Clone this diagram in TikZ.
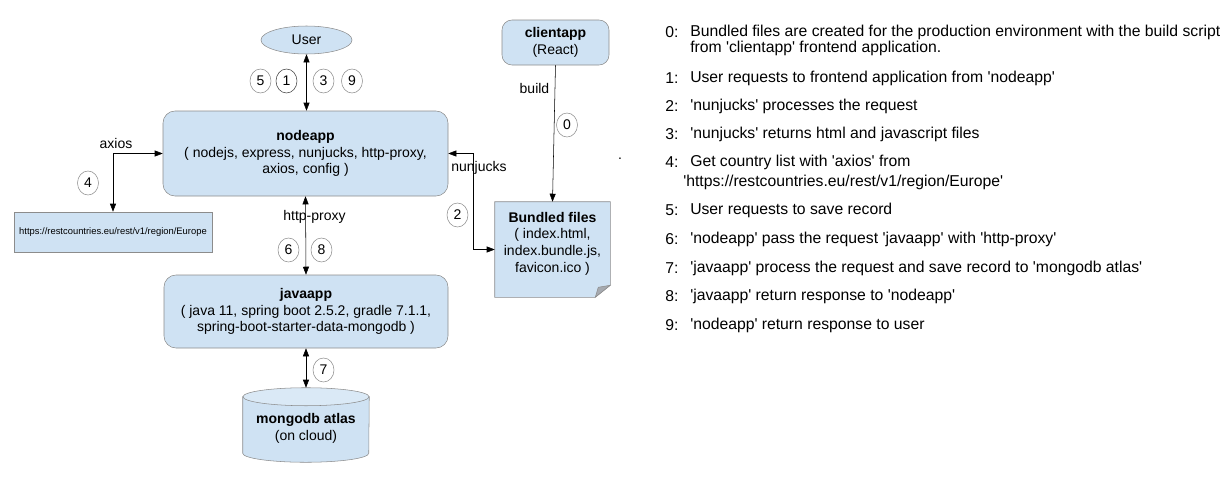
\documentclass[tikz,border=0pt]{standalone}
\usepackage{fontspec}
\setmainfont{Liberation Sans}[Ligatures=TeXOff]
\usetikzlibrary{arrows.meta, shapes.geometric, backgrounds, positioning}

\definecolor{boxfill}{RGB}{207,226,243}
\definecolor{capfill}{RGB}{218,233,246}
\definecolor{boxline}{RGB}{140,140,140}
\definecolor{foldfill}{RGB}{166,170,176}

\tikzset{
  txt/.style={font=\fontsize{10.5}{12.5}\selectfont},
  appbox/.style={txt, rectangle, rounded corners=9pt, draw=boxline, fill=boxfill, align=center, inner sep=0pt},
  stepnum/.style={txt, ellipse, draw=black!45, minimum width=15.75pt, minimum height=18pt, inner sep=0pt},
  tag/.style={txt, inner sep=0pt},
  legend/.style={font=\fontsize{11.8}{14}\selectfont, anchor=west, inner sep=0pt},
  twoway/.style={{Triangle[length=6pt,width=4.5pt]}-{Triangle[length=6pt,width=4.5pt]}},
  oneway/.style={-{Triangle[length=6pt,width=4.5pt]}},
}

\begin{document}
\begin{tikzpicture}[x=0.75pt, y=-0.75pt]
  \useasboundingbox (0,0) rectangle (1229,479);

  % boxes
  \node[txt, ellipse, draw=boxline, fill=boxfill, minimum width=68.25pt, minimum height=21pt, inner sep=0pt] (user) at (306.5,40) {User};
  \node[appbox, minimum width=213.75pt, minimum height=63.75pt] (nodeapp) at (305.5,153.5) {{\bfseries nodeapp}\\( nodejs, express, nunjucks, http-proxy,\\axios, config )};
  \node[appbox, minimum width=213pt, minimum height=54.75pt] (javaapp) at (306,311.5) {{\bfseries javaapp}\\( java 11, spring boot 2.5.2, gradle 7.1.1,\\spring-boot-starter-data-mongodb )};
  \node[appbox, rounded corners=7.5pt, minimum width=80.25pt, minimum height=33.75pt] (clientapp) at (555.5,42.5) {{\bfseries clientapp}\\(React)};
  \node[rectangle, draw=boxline, fill=boxfill, minimum width=148.5pt, minimum height=30pt, inner sep=0pt, font=\fontsize{7.05}{8}\selectfont] (url) at (113,232) {https://restcountries.eu/rest/v1/region/Europe};
  \node[minimum width=86.25pt, minimum height=71.25pt, inner sep=0pt,
        label={[txt, align=center, yshift=4.5pt]center:{{\bfseries Bundled files}\\( index.html,\\index.bundle.js,\\favicon.ico )}}] (bundled) at (552.5,249.5) {};
  \node[minimum width=94.5pt, minimum height=55.5pt, inner sep=0pt,
        label={[txt, align=center, yshift=-2.6pt]center:{{\bfseries mongodb atlas}\\(on cloud)}}] (mongo) at (306,425) {};

  \begin{scope}[on background layer]
    % note shape
    \draw[draw=boxline, fill=boxfill] (bundled.north west) -- (bundled.north east) -- ([yshift=9pt]bundled.south east) -- ([xshift=-11.25pt]bundled.south east) -- (bundled.south west) -- cycle;
    \draw[draw=boxline, fill=foldfill] ([yshift=9pt]bundled.south east) -- ([xshift=-11.25pt]bundled.south east) -- ([xshift=-9pt, yshift=7.5pt]bundled.south east) -- cycle;
    % cylinder
    \draw[draw=boxline, fill=boxfill] ([yshift=-6.75pt]mongo.north west) -- ([yshift=6.75pt]mongo.south west) arc[start angle=180, end angle=360, x radius=47.25pt, y radius=6.75pt] -- ([yshift=-6.75pt]mongo.north east) -- cycle;
    \draw[draw=boxline, fill=capfill] ([yshift=-6.75pt]mongo.north) ellipse[x radius=47.25pt, y radius=6.75pt];
  \end{scope}

  % connectors
  \draw[twoway] (user.south) -- (user.south |- nodeapp.north);
  \draw[twoway] (nodeapp.south) -- (javaapp.north);
  \draw[twoway] (javaapp.south) -- (mongo.north);
  \draw[twoway] (url.north) |- (nodeapp.west);
  \draw[twoway] (nodeapp.east) -- ++(24.5,0) |- (bundled.west);
  \draw[oneway] (clientapp.south) -- (bundled.north);

  % connector labels
  \node[tag] (axios) at (116,143) {axios};
  \node[tag] (proxy) at (314.5,217) {http-proxy};
  \node[tag] (nunjucks) at (479,168) {nunjucks};
  \node[tag] (build) at (534.5,88) {build};
  \node[tag] (dot) at (620,159) {.};

  % step numbers
  \node[stepnum] (s5) at (260.5,81) {5};
  \node[stepnum, draw=black!75] (s1) at (286.5,81) {1};
  \node[stepnum] (s3) at (323.5,81) {3};
  \node[stepnum] (s9) at (352,81) {9};
  \node[stepnum] (s4) at (88,183) {4};
  \node[stepnum] (s6) at (288.5,250) {6};
  \node[stepnum] (s8) at (321.5,250) {8};
  \node[stepnum] (s7) at (323.5,370) {7};
  \node[stepnum] (s2) at (457.5,215) {2};
  \node[stepnum] (s0) at (567,125) {0};

  % legend
  \node[legend] (n0) at (665,32) {0:};
  \node[legend] (t0) at (690,32) {Bundled files are created for the production environment with the build script};
  \node[legend] (t0b) at (690,48) {from 'clientapp' frontend application.};
  \node[legend] (n1) at (665,78) {1:};
  \node[legend] (t1) at (690,78) {User requests to frontend application from 'nodeapp'};
  \node[legend] (n2) at (665,106) {2:};
  \node[legend] (t2) at (690,106) {'nunjucks' processes the request};
  \node[legend] (n3) at (665,134) {3:};
  \node[legend] (t3) at (690,134) {'nunjucks' returns html and javascript files};
  \node[legend] (n4) at (665,162) {4:};
  \node[legend] (t4) at (690,162) {Get country list with 'axios' from};
  \node[legend] (t4b) at (683,182) {'https://restcountries.eu/rest/v1/region/Europe'};
  \node[legend] (n5) at (665,210) {5:};
  \node[legend] (t5) at (690,210) {User requests to save record};
  \node[legend] (n6) at (665,239) {6:};
  \node[legend] (t6) at (690,239) {'nodeapp' pass the request 'javaapp' with 'http-proxy'};
  \node[legend] (n7) at (665,268) {7:};
  \node[legend] (t7) at (690,268) {'javaapp' process the request and save record to 'mongodb atlas'};
  \node[legend] (n8) at (665,296) {8:};
  \node[legend] (t8) at (690,296) {'javaapp' return response to 'nodeapp'};
  \node[legend] (n9) at (665,325) {9:};
  \node[legend] (t9) at (690,325) {'nodeapp' return response to user};
\end{tikzpicture}
\end{document}
